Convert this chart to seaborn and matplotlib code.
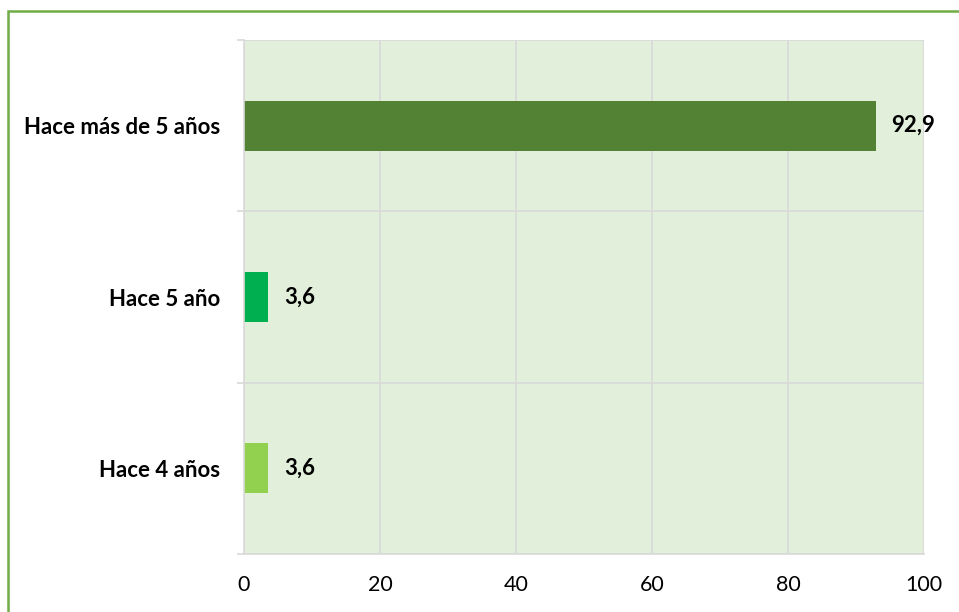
import pandas as pd
import seaborn as sns
import matplotlib.pyplot as plt
from matplotlib.patches import Rectangle

# datos
categorias = ["Hace más de 5 años", "Hace 5 año", "Hace 4 años"]
valores = [92.9, 3.6, 3.6]
colores = ["#548235", "#00B050", "#92D050"]
ticks_x = [0, 20, 40, 60, 80, 100]

df = pd.DataFrame({"categoria": categorias, "valor": valores})

sns.set_theme(style="white")
plt.rcParams["font.family"] = ["Lato", "DejaVu Sans"]

fig = plt.figure(figsize=(9.59, 6.12), dpi=100)
ax = fig.add_axes([244 / 959, 1 - 554 / 612, 680 / 959, 514 / 612])
ax.set_facecolor("#E2EFDA")

sns.barplot(data=df, x="valor", y="categoria", hue="categoria", palette=colores,
            order=categorias, width=0.29, legend=False, ax=ax, orient="h",
            saturation=1, linewidth=0)

for i, v in enumerate(valores):
    ax.text(v + 2.3, i, f"{v:.1f}".replace(".", ","), va="center", ha="left",
            fontsize=16, fontweight="bold", color="black")

ax.set_xlim(0, 100)
ax.set_ylim(2.5, -0.5)
ax.set_xticks(ticks_x)
ax.set_xticklabels([str(t) for t in ticks_x], fontsize=15.5, color="black")
ax.set_yticks(range(len(categorias)))
ax.set_yticklabels(categorias, fontsize=16, fontweight="bold", color="black")
ax.set_yticks([-0.5, 0.5, 1.5, 2.5], minor=True)
ax.tick_params(axis="y", which="major", length=0, pad=17)
ax.tick_params(axis="y", which="minor", length=5, color="#D9D9D9", width=1.2, direction="out", left=True)
ax.tick_params(axis="x", length=0, pad=15)
ax.grid(axis="x", color="#D9D9D9", linewidth=1.2)
ax.grid(axis="y", which="minor", color="#D9D9D9", linewidth=1.2)
ax.set_axisbelow(True)
ax.set_xlabel("")
ax.set_ylabel("")
for s in ["top", "right"]:
    ax.spines[s].set_visible(False)
for s in ["left", "bottom"]:
    ax.spines[s].set_color("#D9D9D9")
    ax.spines[s].set_linewidth(1.2)

# marco verde
fig.patches.append(Rectangle((8 / 959, -0.1), 1.0, 1.1 - 11 / 612,
                             transform=fig.transFigure, fill=False,
                             edgecolor="#70AD47", linewidth=1.8))

fig.savefig("out.png", dpi=100)
